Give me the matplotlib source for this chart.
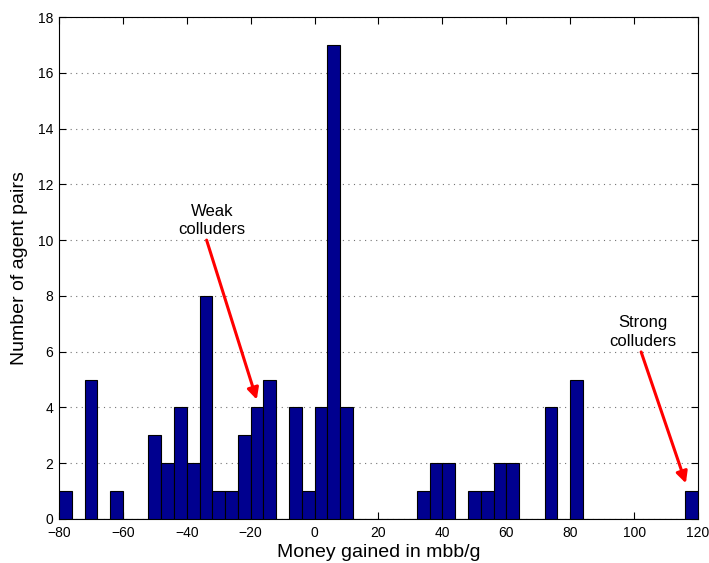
import matplotlib
matplotlib.use('Agg')
import matplotlib.pyplot as plt
import numpy as np

plt.rcParams['font.family'] = ['Liberation Sans', 'DejaVu Sans']

# histogram of money gained: 50 bins of width 4 from -80 to 120
bin_edges = np.arange(-80, 121, 4)
counts = [1, 0, 5, 0, 1, 0, 0, 3, 2, 4,
          2, 8, 1, 1, 3, 4, 5, 0, 4, 1,
          4, 17, 4, 0, 0, 0, 0, 0, 1, 2,
          2, 0, 1, 1, 2, 2, 0, 0, 4, 0,
          5, 0, 0, 0, 0, 0, 0, 0, 0, 1]

xticks = np.arange(-80, 121, 20)
yticks = np.arange(0, 19, 2)

fig = plt.figure(figsize=(7.09, 5.63), dpi=100)
ax = fig.add_axes([0.0832, 0.0782, 0.9013, 0.8916])

ax.bar(bin_edges[:-1], counts, width=4, align='edge',
       color='#00008F', edgecolor='black', linewidth=0.8, zorder=3)

ax.set_xlim(-80, 120)
ax.set_ylim(0, 18)
ax.set_xticks(xticks)
ax.set_yticks(yticks)
ax.set_xticklabels([str(t).replace('-', '\u2212') for t in xticks])
ax.tick_params(direction='in', top=True, right=True, labelsize=10, length=5)
ax.tick_params(axis='x', pad=5)
ax.tick_params(axis='y', pad=4)
ax.yaxis.grid(True, linestyle=(0, (1, 4)), color='0.45', linewidth=0.8, zorder=0)
ax.set_axisbelow(True)

ax.set_xlabel('Money gained in mbb/g', fontsize=14, labelpad=3)
ax.set_ylabel('Number of agent pairs', fontsize=14, labelpad=7)

arrow = dict(arrowstyle='-|>', color='red', lw=2.2, mutation_scale=17,
             shrinkA=0, shrinkB=0)
ax.text(-32.1, 10.7, 'Weak\ncolluders', ha='center', va='center',
        fontsize=12, linespacing=1.3)
ax.annotate('', xy=(-18.1, 4.28), xytext=(-33.8, 10.0), arrowprops=arrow)
ax.text(102.8, 6.7, 'Strong\ncolluders', ha='center', va='center',
        fontsize=12, linespacing=1.3)
ax.annotate('', xy=(116.2, 1.28), xytext=(102.2, 5.99), arrowprops=arrow)

fig.savefig('out.png', dpi=100)
